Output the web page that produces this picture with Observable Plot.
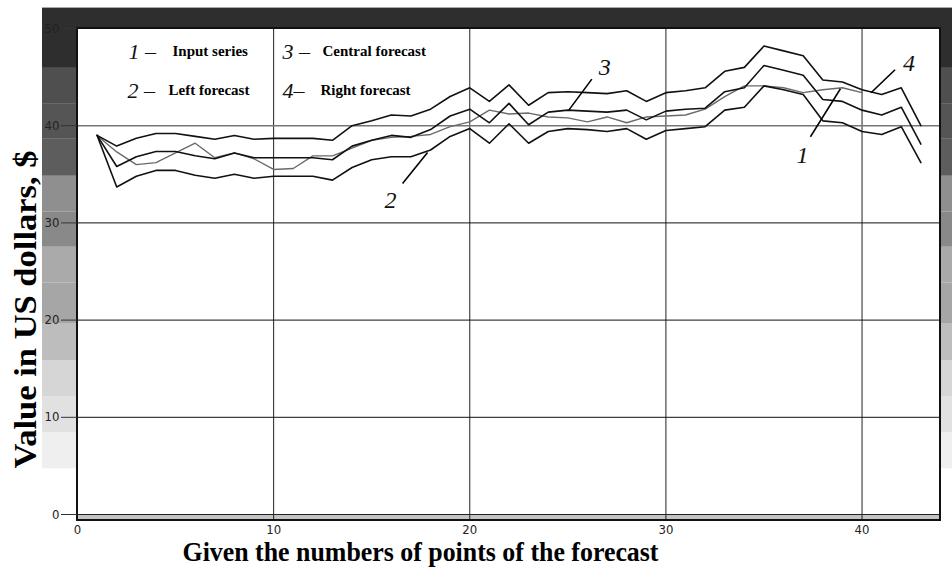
<!DOCTYPE html>
<html><head><meta charset="utf-8">
<script src="https://cdn.jsdelivr.net/npm/d3@7"></script>
<script src="https://cdn.jsdelivr.net/npm/@observablehq/plot@0.6"></script>
<style>
html,body{margin:0;padding:0;background:#fff;}
#chart{width:952px;height:567px;}
</style>
</head><body><div id="chart"></div>
<script>
// ---- data ----
const inputSeries = [39.0, 37.3, 36.0, 36.2, 37.2, 38.2, 36.7, 37.2, 36.6, 35.5, 35.6, 36.9, 36.9, 37.7, 38.5, 38.8, 38.9, 39.1, 39.9, 40.4, 41.6, 41.2, 41.3, 40.9, 40.8, 40.4, 40.9, 40.3, 40.9, 41.0, 41.1, 41.7, 43.0, 44.1, 44.1, 43.9, 43.4, 43.7, 43.9, 43.4];
const leftForecast = [39.0, 33.7, 34.8, 35.4, 35.4, 34.9, 34.6, 35.0, 34.6, 34.8, 34.8, 34.8, 34.4, 35.7, 36.5, 36.8, 36.8, 37.5, 38.9, 39.7, 38.2, 40.2, 38.2, 39.4, 39.7, 39.6, 39.4, 39.7, 38.6, 39.5, 39.7, 39.9, 41.6, 41.9, 44.1, 43.7, 43.2, 40.5, 40.3, 39.4, 39.1, 39.9, 36.2];
const centralForecast = [39.0, 35.8, 36.8, 37.35, 37.35, 36.9, 36.6, 37.2, 36.7, 36.7, 36.7, 36.7, 36.5, 37.9, 38.5, 39.0, 38.8, 39.6, 41.0, 41.7, 40.3, 42.3, 40.1, 41.4, 41.6, 41.5, 41.4, 41.6, 40.6, 41.5, 41.7, 41.8, 43.5, 43.9, 46.2, 45.7, 45.2, 42.7, 42.5, 41.6, 41.1, 41.9, 38.1];
const rightForecast = [39.0, 37.9, 38.7, 39.2, 39.2, 38.9, 38.6, 39.0, 38.6, 38.7, 38.7, 38.7, 38.5, 40.0, 40.5, 41.1, 41.0, 41.7, 43.0, 43.9, 42.5, 44.2, 42.1, 43.4, 43.5, 43.4, 43.3, 43.6, 42.5, 43.4, 43.6, 43.9, 45.6, 46.0, 48.2, 47.7, 47.2, 44.7, 44.5, 43.7, 43.2, 43.9, 40.0];
const seriesNames = ["Input series", "Left forecast", "Central forecast", "Right forecast"];
const seriesNumbers = ["1", "2", "3", "4"];
const xTicks = [0, 10, 20, 30, 40];
const yTicks = [0, 10, 20, 30, 40, 50];
const xTitle = "Given the numbers of points of the forecast";
const yTitle = "Value in US dollars, $";
// decorative background bands (value edges, bottom to top) and their greys
const bandEdges = [4.7, 8.4, 12.1, 15.8, 19.65, 23.8, 27.5, 31.1, 34.8, 38.6, 42.2, 45.9, 52.1];
const bandGreys = ["#efefef", "#e1e1e1", "#d6d6d6", "#bdbdbd", "#a6a6a6", "#aaaaaa", "#898989", "#8f8f8f", "#5d5d5d", "#555555", "#4f4f4f", "#2e2e2e"];

// ---- build tables ----
const allSeries = [inputSeries, leftForecast, centralForecast, rightForecast];
const rows = allSeries.flatMap((vals, s) => vals.map((v, i) => ({series: seriesNames[s], x: i + 1, y: v})));
const bands = bandGreys.map((c, k) => ({y1: bandEdges[k], y2: bandEdges[k + 1], fill: c}));

// layout
const W = 952, H = 567;
const mL = 77, mR = 12, mT = 28, mB = 53;
const xDom = [0, 44], yDom = [0, 50];
const kx = (W - mL - mR) / (xDom[1] - xDom[0]);
const ky = (H - mT - mB) / (yDom[1] - yDom[0]);
const pxX = (p) => (p - mL) / kx;          // page px -> x value
const pxY = (p) => (H - mB - p) / ky;      // page px -> y value
const frameBottom = pxY(520);

// annotations: anchor on a series point, leader offsets in px
const annots = [
  {s: 0, i: 39, start: [-2, 1], end: [-32, 49], label: [-40, 68]},
  {s: 2, i: 25, start: [1, 0], end: [24, -31], label: [37, -43]},
  {s: 3, i: 40, start: [9, 3], end: [33, -20], label: [47, -26]},
  {s: 1, i: 18, start: [-3, 2.5], end: [-28, 33.5], label: [-40, 50]}
].map(a => {
  const ax = a.i, ay = allSeries[a.s][a.i - 1];
  return {
    num: seriesNumbers[a.s],
    x1: ax + a.start[0] / kx, y1: ay - a.start[1] / ky,
    x2: ax + a.end[0] / kx, y2: ay - a.end[1] / ky,
    lx: ax + a.label[0] / kx, ly: ay - a.label[1] / ky
  };
});

const serif = "Liberation Serif, Times New Roman, serif";
const narrow = "Liberation Sans Narrow, Arial Narrow, DejaVu Sans Condensed, sans-serif";

const legendPos = [[128, 172, 51], [127, 168, 90], [282, 322, 51], [282, 320, 90]];
const legendMarks = seriesNumbers.flatMap((n, k) => {
  const [xn, xl, yc] = legendPos[k];
  return [
    Plot.text([n + (k === 3 ? "–" : " –")], {frameAnchor: "top-left", dx: xn - mL, dy: yc - mT, textAnchor: "start", lineAnchor: "middle",
      fontFamily: serif, fontStyle: "italic", fontSize: 22, fill: "#111"}),
    Plot.text([seriesNames[k]], {frameAnchor: "top-left", dx: xl - mL, dy: yc - mT, textAnchor: "start", lineAnchor: "middle",
      fontFamily: serif, fontWeight: "bold", fontSize: 15, fill: "#000"})
  ];
});

const chart = Plot.plot({
  width: W, height: H,
  marginLeft: mL, marginRight: mR, marginTop: mT, marginBottom: mB,
  x: {domain: xDom},
  y: {domain: yDom},
  style: {fontFamily: narrow, fontSize: "13px", background: "#fff", overflow: "visible"},
  marks: [
    // background bands (behind plot area)
    Plot.rect(bands, {x1: pxX(42), x2: pxX(W), y1: "y1", y2: "y2", fill: "fill", clip: false}),
    // white plot area
    Plot.rect([0], {x1: xDom[0], x2: xDom[1], y1: yDom[0], y2: yDom[1], fill: "#fff"}),
    // grey strip below zero
    Plot.rect([0], {x1: xDom[0], x2: xDom[1], y1: frameBottom, y2: 0, fill: "#c4c4c4"}),
    // grid
    Plot.ruleX(xTicks.filter(d => d > 0), {y1: frameBottom, y2: yDom[1], stroke: "#222", strokeWidth: 1}),
    Plot.ruleY([10, 20, 30], {x1: xDom[0], x2: xDom[1], stroke: "#111", strokeWidth: 1}),
    Plot.ruleY([40], {x1: xDom[0], x2: xDom[1], stroke: "#777", strokeWidth: 1.5}),
    Plot.ruleY([0], {x1: xDom[0], x2: xDom[1], stroke: "#222", strokeWidth: 1.2}),
    // series
    Plot.line(rows.filter(d => d.series === seriesNames[0]), {x: "x", y: "y", stroke: "#6a6a6a", strokeWidth: 1.4}),
    Plot.line(rows.filter(d => d.series !== seriesNames[0]), {x: "x", y: "y", z: "series", stroke: "#111", strokeWidth: 1.6}),
    // frame
    Plot.rect([0], {x1: xDom[0], x2: xDom[1], y1: frameBottom, y2: yDom[1], fill: "none", stroke: "#111", strokeWidth: 2}),
    // axes
    Plot.axisY(yTicks, {tickSize: 16, tickPadding: 2, fill: "#222", stroke: "#333", fontSize: 13}),
    Plot.axisX(xTicks, {tickSize: 0, tickPadding: 10, fill: "#222", fontSize: 13}),
    // annotations
    Plot.link(annots, {x1: "x1", y1: "y1", x2: "x2", y2: "y2", stroke: "#000", strokeWidth: 1.6}),
    Plot.text(annots, {x: "lx", y: "ly", text: "num", fontFamily: serif, fontStyle: "italic", fontSize: 24, fill: "#111"}),
    // legend
    ...legendMarks,
    // axis titles
    Plot.text([yTitle], {frameAnchor: "top-left", dx: 26 - mL, dy: 309 - mT, rotate: -90,
      textAnchor: "middle", lineAnchor: "middle",
      fontFamily: serif, fontWeight: "bold", fontSize: 31, fill: "#000"}),
    Plot.text([xTitle], {frameAnchor: "top-left", dx: 420 - mL, dy: 552 - mT,
      textAnchor: "middle", lineAnchor: "middle",
      fontFamily: serif, fontWeight: "bold", fontSize: 28, fill: "#000"})
  ]
});
// condense the tall axis titles to the reference's widths
d3.select(chart).selectAll("text").each(function () {
  const t = this.textContent;
  if (t === xTitle) d3.select(this).attr("textLength", 476).attr("lengthAdjust", "spacingAndGlyphs");
  if (t === yTitle) d3.select(this).attr("textLength", 318).attr("lengthAdjust", "spacingAndGlyphs");
});
document.getElementById("chart").appendChild(chart);
</script>
</body></html>
